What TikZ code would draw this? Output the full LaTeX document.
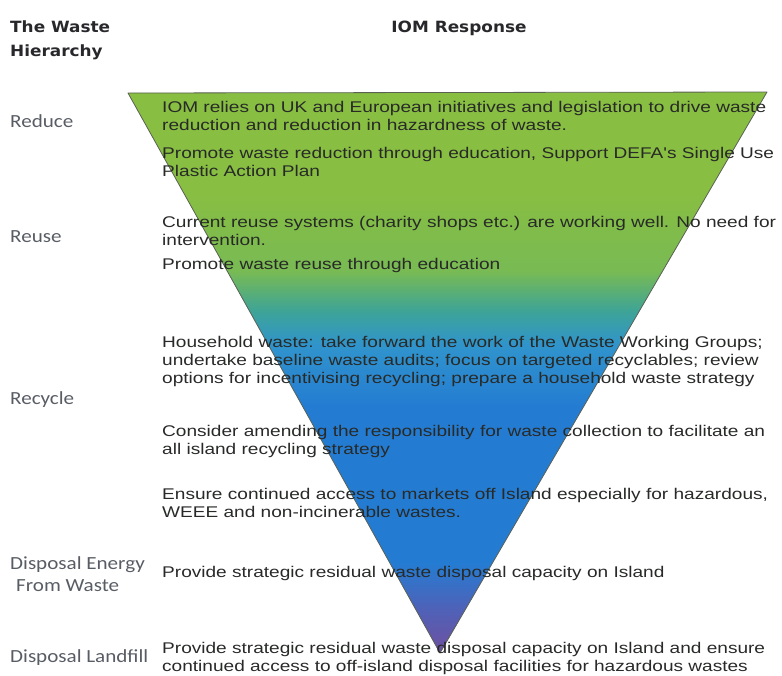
\documentclass[tikz,border=0pt]{standalone}
\usepackage{fontspec}
\setmainfont{Liberation Sans}
\newfontfamily\RespFont[FakeStretch=1.23]{Liberation Sans}
\newfontfamily\LevelFont[FakeStretch=1.14]{Carlito}
\newfontfamily\HeadFont[FakeStretch=1.09]{DejaVu Sans}
\definecolor{GreenClr}{RGB}{136,190,66}
\definecolor{LightGreenClr}{RGB}{120,186,84}
\definecolor{TealClr}{RGB}{62,164,150}
\definecolor{SkyClr}{RGB}{48,148,204}
\definecolor{BlueClr}{RGB}{36,124,210}
\definecolor{VioletClr}{RGB}{78,98,184}
\definecolor{PurpleClr}{RGB}{112,80,160}
\definecolor{EdgeClr}{RGB}{90,96,84}
\definecolor{TextClr}{RGB}{40,42,40}
\definecolor{LevelClr}{RGB}{88,92,100}
\definecolor{HeadClr}{RGB}{40,40,44}
\pgfdeclareverticalshading{WasteShade}{100bp}{color(0bp)=(PurpleClr); color(25bp)=(PurpleClr);
  color(29bp)=(VioletClr); color(33bp)=(BlueClr); color(47bp)=(BlueClr); color(52.5bp)=(SkyClr);
  color(55.5bp)=(TealClr); color(59bp)=(LightGreenClr); color(66bp)=(GreenClr); color(75bp)=(GreenClr);
  color(100bp)=(GreenClr)}

\begin{document}
\begin{tikzpicture}[x=1pt,y=-1pt,
  resp/.style={anchor=west,inner sep=0,align=left,text=TextClr,
    font=\RespFont\fontsize{15.5}{18}\selectfont},
  level/.style={anchor=west,inner sep=0,align=left,text=LevelClr,
    font=\LevelFont\fontsize{18.5}{22}\selectfont},
  head/.style={anchor=west,inner sep=0,align=left,text=HeadClr,
    font=\HeadFont\bfseries\fontsize{15.5}{24}\selectfont}]
\useasboundingbox (0,0) rectangle (782,675);

% the inverted triangle
\coordinate (TL) at (128,93);
\coordinate (TR) at (767,92);
\coordinate (Tip) at (440,653);
\shade[shading=WasteShade] (TL) -- (TR) -- (Tip) -- cycle;
\draw[EdgeClr,line width=0.8pt,line join=round] (TL) -- (TR) -- (Tip) -- cycle;

% headings
\node[head] (hier) at (10,40) {The Waste\\Hierarchy};
\node[head,anchor=center] (iom) at (459,28) {IOM Response};

% levels of the hierarchy
\node[level] (reduce) at (10,121) {Reduce};
\node[level] (reuse) at (10,237) {Reuse};
\node[level] (recycle) at (10,400) {Recycle};
\node[level] (efw) at (10,574) {Disposal Energy\\\hspace{6pt}From Waste};
\node[level] (landfill) at (10,658) {Disposal Landfill};

% responses
\node[resp] (r1) at (162,115.5) {IOM relies on UK and European initiatives and legislation to drive waste\\reduction and reduction in hazardness of waste.};
\node[resp] (r2) at (162,161.5) {Promote waste reduction through education, Support DEFA's Single Use\\Plastic Action Plan};
\node[resp] (r3) at (162,231) {Current reuse systems (charity shops etc.) are working well. No need for\\intervention.};
\node[resp] (r4) at (162,265) {Promote waste reuse through education};
\node[resp] (r5) at (162,361) {Household waste: take forward the work of the Waste Working Groups;\\undertake baseline waste audits; focus on targeted recyclables; review\\options for incentivising recycling; prepare a household waste strategy};
\node[resp] (r6) at (162,441) {Consider amending the responsibility for waste collection to facilitate an\\all island recycling strategy};
\node[resp] (r7) at (162,502.5) {Ensure continued access to markets off Island especially for hazardous,\\WEEE and non-incinerable wastes.};
\node[resp] (r8) at (162,573) {Provide strategic residual waste disposal capacity on Island};
\node[resp] (r9) at (162,658) {Provide strategic residual waste disposal capacity on Island and ensure\\continued access to off-island disposal facilities for hazardous wastes};

\end{tikzpicture}
\end{document}
